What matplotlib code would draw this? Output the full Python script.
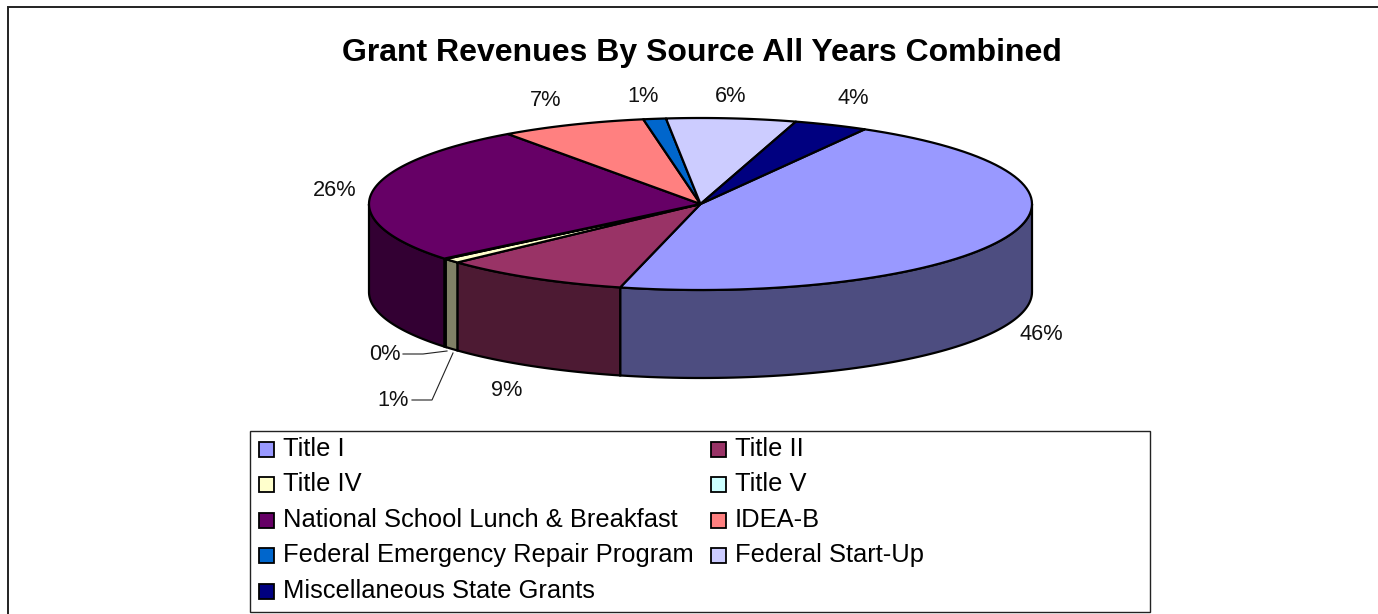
import numpy as np
from matplotlib import pyplot as plt
from matplotlib.colors import to_rgb
from matplotlib.patches import Polygon, Rectangle

W, H = 1378, 614

# chart data, share of all grant revenue in percent
sources = ["Title I", "Title II", "Title IV", "Title V", "National School Lunch & Breakfast",
           "IDEA-B", "Federal Emergency Repair Program", "Federal Start-Up", "Miscellaneous State Grants"]
shares = [45.6, 9.2, 0.85, 0.1, 26.05, 7.1, 1.1, 6.3, 3.6]
pct_labels = ["46%", "9%", "1%", "0%", "26%", "7%", "1%", "6%", "4%"]
colors = ["#9999FF", "#993366", "#FFFFCC", "#CCFFFF", "#660066", "#FF8080", "#0066CC", "#CCCCFF", "#000080"]

# label anchor points in pixels
label_xy = [(1041, 335), (507, 391), (393, 400), (385, 355), (335, 191), (546, 100), (643, 96), (731, 96), (853, 99)]

CX, CY, RX, RY, DEPTH = 700.5, 204, 331.5, 86, 88
START = 60.3

plt.rcParams['font.family'] = ['Liberation Sans', 'DejaVu Sans']
fig = plt.figure(figsize=(W / 100, H / 100), dpi=100)
ax = fig.add_axes([0, 0, 1, 1])
ax.set_xlim(0, W)
ax.set_ylim(H, 0)
ax.axis('off')


def shade(color):
    r, g, b = to_rgb(color)
    return (r * 0.5, g * 0.5, b * 0.5)


def rim(a0, a1, y0=CY):
    t = np.radians(np.linspace(a0, a1, 80))
    return np.column_stack([CX + RX * np.cos(t), y0 - RY * np.sin(t)])


# slice limits, clockwise from the start angle
edges = START - np.cumsum([0] + shares) * 360.0 / sum(shares)

# outer frame, only left and top are in the picture
ax.plot([7.5, 7.5, W], [H, 6.5, 6.5], color='#222222', lw=1.4, solid_joinstyle='miter')

# side wall of the visible front half
for i, c in enumerate(colors):
    lo, hi = max(edges[i + 1], -180), min(edges[i], 0)
    if lo < hi:
        pts = np.vstack([rim(hi, lo), rim(lo, hi, CY + DEPTH)])
        ax.add_patch(Polygon(pts, closed=True, fc=shade(c), ec='black', lw=1.6, zorder=2))

# top face
for i, c in enumerate(colors):
    pts = np.vstack([[CX, CY], rim(edges[i], edges[i + 1])])
    ax.add_patch(Polygon(pts, closed=True, fc=c, ec='black', lw=1.6, joinstyle='round', zorder=3))

# percent labels
for (x, y), s in zip(label_xy, pct_labels):
    ax.text(x, y, s, fontsize=15.7, ha='center', va='center', color='#111111', zorder=5)

# leader lines for the two thin slices
ax.plot([403, 423, 447], [354, 354, 351], color='#222222', lw=0.8, zorder=4)
ax.plot([412, 432, 453], [400, 400, 353], color='#222222', lw=0.8, zorder=4)

ax.text(701.5, 61, "Grant Revenues By Source All Years Combined", fontsize=23.0, fontweight='bold',
        ha='center', va='baseline', color='black')

# legend box
ax.add_patch(Rectangle((249.5, 430.5), 900, 181.5, fc='white', ec='#222222', lw=1.0, zorder=1))
col_x = [259, 711]
row_base = [457, 492, 528, 563, 599]
for i, (name, c) in enumerate(zip(sources, colors)):
    x = col_x[i % 2]
    y = row_base[i // 2]
    ax.add_patch(Rectangle((x, y - 15), 15, 15, fc=c, ec='black', lw=1.3, zorder=2))
    ax.text(x + 24, y - 1, name, fontsize=18.4, ha='left', va='baseline', color='black', zorder=2)

fig.savefig('out.png', dpi=100)
